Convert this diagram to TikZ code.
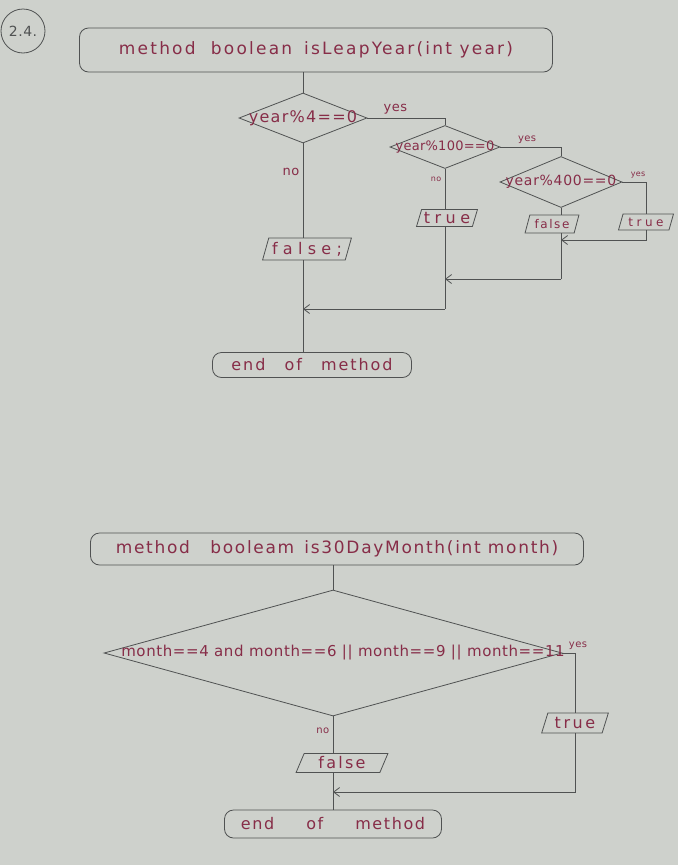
\documentclass[tikz,border=0pt]{standalone}
\usepackage{fontspec}
\setmainfont{DejaVu Sans}
\usetikzlibrary{shapes.geometric,arrows.meta,calc}
\definecolor{paper}{RGB}{206,209,204}
\definecolor{ink}{RGB}{80,82,82}
\definecolor{pen}{RGB}{135,45,72}
\newcommand{\fs}[2]{\fontsize{#1}{#1}\selectfont\addfontfeature{LetterSpace=#2}}
\begin{document}
\begin{tikzpicture}[x=1pt,y=-1pt,
  every node/.style={text=pen},
  lw/.style={line width=0.8pt},
  term/.style={draw=ink, lw, rounded corners=9pt, inner sep=0pt},
  dia/.style={draw=ink, lw, diamond, inner sep=0pt},
  io/.style={draw=ink, lw, trapezium, trapezium left angle=68, trapezium right angle=112,
    trapezium stretches=true, inner sep=0pt},
  lbl/.style={font=\fs{13}{4}},
  sml/.style={font=\fs{10}{4}},
  tiny/.style={font=\fs{8}{4}},
  conn/.style={draw=ink, lw},
  arr/.style={conn, -{Straight Barb[length=6pt,width=9pt]}}
]
\fill[paper] (0,0) rectangle (678,865);
\useasboundingbox (0,0) rectangle (678,865);

% label 2.4
\node[draw=ink, lw, circle, minimum size=44pt, inner sep=0pt, text=ink, font=\fs{14}{4}] (num) at (23,31) {2.4.};

% ===== isLeapYear =====
\node[term, font=\fs{17}{13}, minimum width=473pt, minimum height=44pt] (s1) at (316,50) {method\hspace{0.9em}boolean\hspace{0.7em}isLeapYear(int year)};
\node[dia, minimum width=128pt, minimum height=50pt, label={[font=\fs{16}{8}]center:year\%4==0}] (d1) at (303,118) {};
\node[dia, minimum width=110pt, minimum height=43pt, label={[font=\fs{13}{2}]center:year\%100==0}] (d2) at (445,147) {};
\node[dia, minimum width=122pt, minimum height=51pt, label={[font=\fs{14}{5}]center:year\%400==0}] (d3) at (561,182) {};
\node[io, font=\fs{16}{28}, minimum width=61pt, minimum height=17pt] (t2) at (447,218) {true};
\node[io, font=\fs{12}{13}, minimum width=54pt, minimum height=18pt] (f3) at (552,224) {false};
\node[io, font=\fs{12}{29}, minimum width=55pt, minimum height=16pt] (t3) at (646,222) {true};
\node[io, font=\fs{16}{33}, minimum width=89pt, minimum height=22pt] (f1) at (307,249) {false;};
\node[term, font=\fs{16}{12}, minimum width=199pt, minimum height=25pt] (e1) at (312,365) {end\hspace{1.2em}of\hspace{1.2em}method};

\coordinate (j1) at (561,240);
\coordinate (j2) at (445,279);
\coordinate (j3) at (303,309);

\draw[conn] (d1.north) -- (d1.north |- s1.south);
\draw[conn] (d1.east) -| (d2.north) node[pos=0.18, above, lbl] (y1) {yes};
\draw[conn] (d1.south) -- (d1.south |- f1.north) node[pos=0.3, left, lbl] (n1) {no};
\draw[conn] (d2.east) -| (d3.north) node[pos=0.22, above, sml] (y2) {yes};
\draw[conn] (d2.south) -- (d2.south |- t2.north) node[pos=0.25, left, tiny] (n2) {no};
\draw[conn] (d3.east) -| (t3.north) node[pos=0.33, above, tiny] (y3) {yes};
\draw[conn] (d3.south) -- (d3.south |- f3.north);
\draw[arr] (t3.south) |- (j1);
\draw[conn] (d3.south |- f3.south) -- (d3.south |- j2);
\draw[arr] (d3.south |- j2) -- (j2);
\draw[conn] (d2.south |- t2.south) -- (j3 -| d2.south);
\draw[arr] (j3 -| d2.south) -- (j3);
\draw[conn] (d1.south |- f1.south) -- (d1.south |- e1.north);

% ===== is30DayMonth =====
\node[term, font=\fs{17}{10}, minimum width=493pt, minimum height=32pt] (s2) at (337,549) {method\hspace{1.2em}booleam\hspace{0.6em}is30DayMonth(int month)};
\node[dia, minimum width=458pt, minimum height=126pt, label={[font=\fs{15}{4}, xshift=10pt]center:month==4 and month==6 || month==9 || month==11}] (d4) at (333,653) {};
\node[io, font=\fs{16}{16}, minimum width=67pt, minimum height=20pt] (t4) at (575,723) {true};
\node[io, font=\fs{16}{14}, minimum width=92pt, minimum height=19pt] (f4) at (342,763) {false};
\node[term, font=\fs{16}{10}, minimum width=217pt, minimum height=28pt] (e2) at (333,824) {end\hspace{2em}of\hspace{2em}method};
\coordinate (j4) at (333,792);

\draw[conn] (d4.north) -- (d4.north |- s2.south);
\draw[conn] (d4.east) -| (t4.north) node[pos=0.5, above, xshift=3pt, sml] (y4) {yes};
\draw[conn] (d4.south) -- (d4.south |- f4.north) node[pos=0.4, left, sml] (n4) {no};
\draw[arr] (t4.south) |- (j4);
\draw[conn] (d4.south |- f4.south) -- (d4.south |- e2.north);
\end{tikzpicture}
\end{document}
